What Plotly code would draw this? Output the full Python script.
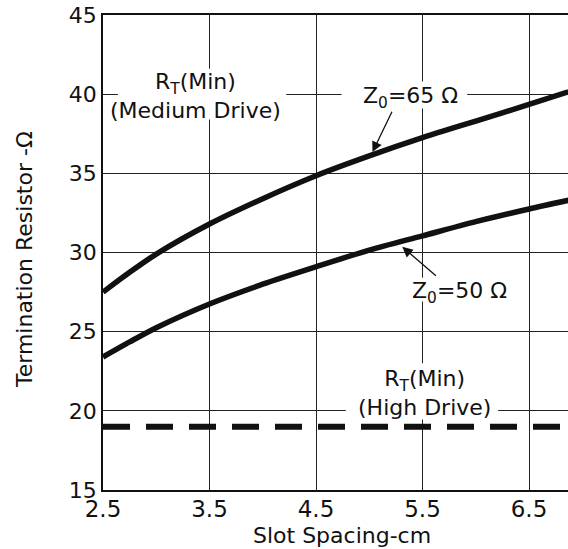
import plotly.graph_objects as go

# Data
slot_spacing = [2.5, 2.75, 3.0, 3.5, 4.0, 4.5, 5.0, 5.5, 6.0, 6.5, 6.87]
rt_z65 = [27.5, 28.75, 29.9, 31.8, 33.4, 34.85, 36.1, 37.25, 38.3, 39.35, 40.15]
rt_z50 = [23.4, 24.35, 25.25, 26.75, 28.0, 29.1, 30.15, 31.05, 31.95, 32.75, 33.3]
high_drive_x = [2.5, 6.87]
high_drive_rt = [19.0, 19.0]

x_ticks = [2.5, 3.5, 4.5, 5.5, 6.5]
x_tick_labels = ["2.5", "3.5", "4.5", "5.5", "6.5"]
y_ticks = [15, 20, 25, 30, 35, 40, 45]

FONT = "DejaVu Sans"
W, H = 568, 549
L, R, T, B = 103, 0, 15, 59
PW, PH = W - L - R, H - T - B
PX_PER_X = 106.5


def paper_x(px):
    return (px - L) / PW


def paper_y(py):
    return (H - B - py) / PH


fig = go.Figure()
fig.add_trace(go.Scatter(x=slot_spacing, y=rt_z65, mode="lines",
                         line=dict(color="#111", width=5.5, shape="spline", smoothing=0.8),
                         showlegend=False, hoverinfo="skip"))
fig.add_trace(go.Scatter(x=slot_spacing, y=rt_z50, mode="lines",
                         line=dict(color="#111", width=5.5, shape="spline", smoothing=0.8),
                         showlegend=False, hoverinfo="skip"))
fig.add_trace(go.Scatter(x=high_drive_x, y=high_drive_rt, mode="lines",
                         line=dict(color="#111", width=6, dash="27px,16px"),
                         showlegend=False, hoverinfo="skip"))

# white masks behind the labels (hide gridlines, stay below the curves)
label_masks = [
    (2.64, 4.22, 38.4, 41.6),   # R_T(Min) (Medium Drive)
    (4.74, 5.92, 39.1, 40.8),   # Z0=65
    (5.40, 6.30, 26.9, 28.4),   # Z0=50
    (4.78, 6.21, 19.45, 23.0),  # R_T(Min) (High Drive)
]
for x0, x1, y0, y1 in label_masks:
    fig.add_shape(type="rect", xref="x", yref="y", x0=x0, x1=x1, y0=y0, y1=y1,
                  fillcolor="white", line=dict(width=0), layer="between")

ann_font = dict(family=FONT, size=22, color="#111")
fig.add_annotation(x=3.37, y=39.9, xref="x", yref="y",
                   text="R<sub>T</sub>(Min)<br>(Medium Drive)",
                   showarrow=False, font=ann_font)
fig.add_annotation(x=5.39, y=39.8, xref="x", yref="y",
                   text="Z<sub>0</sub>=65 Ω",
                   showarrow=False, font=ann_font)
fig.add_annotation(x=5.85, y=27.5, xref="x", yref="y",
                   text="Z<sub>0</sub>=50 Ω",
                   showarrow=False, font=ann_font)
fig.add_annotation(x=5.52, y=21.1, xref="x", yref="y",
                   text="R<sub>T</sub>(Min)<br>(High Drive)",
                   showarrow=False, font=ann_font)
# arrows
fig.add_annotation(x=5.03, y=36.34, ax=5.22, ay=38.99, xref="x", yref="y",
                   axref="x", ayref="y", text="", showarrow=True,
                   arrowhead=2, arrowsize=1.6, arrowwidth=1.3, arrowcolor="#111")
fig.add_annotation(x=5.31, y=30.36, ax=5.64, ay=28.45, xref="x", yref="y",
                   axref="x", ayref="y", text="", showarrow=True,
                   arrowhead=2, arrowsize=1.6, arrowwidth=1.3, arrowcolor="#111")

# axis titles
fig.add_annotation(x=paper_x(342), y=paper_y(535),
                   xref="paper", yref="paper", text="Slot Spacing-cm",
                   showarrow=False, font=dict(family=FONT, size=22, color="#111"),
                   yanchor="middle", xanchor="center")
fig.add_annotation(x=paper_x(24), y=paper_y(260),
                   xref="paper", yref="paper", text="Termination Resistor -Ω",
                   textangle=-90, showarrow=False,
                   font=dict(family=FONT, size=22, color="#111"),
                   xanchor="center", yanchor="middle")

fig.update_layout(
    width=W, height=H,
    margin=dict(l=L, r=R, t=T, b=B, pad=0, autoexpand=False),
    plot_bgcolor="white", paper_bgcolor="white",
    xaxis=dict(range=[2.5, 2.5 + PW / PX_PER_X], tickvals=x_ticks,
               ticktext=x_tick_labels, showgrid=True, gridcolor="#222",
               gridwidth=1.2, zeroline=False, showline=True, linecolor="#111",
               linewidth=1.5, mirror=True, ticks="", automargin=False,
               ticklabeloverflow="allow", ticklabelstandoff=-2,
               tickfont=dict(family=FONT, size=23, color="#111")),
    yaxis=dict(range=[15, 45], tickvals=y_ticks, showgrid=True,
               gridcolor="#222", gridwidth=1.2, zeroline=False, showline=True,
               linecolor="#111", linewidth=1.5, ticks="", automargin=False,
               ticklabeloverflow="allow",
               tickfont=dict(family=FONT, size=22, color="#111")),
)

fig.write_html(
    "out.html",
    config={"displayModeBar": False},
    post_script="document.body.style.margin='0';document.body.style.overflow='hidden';",
)
